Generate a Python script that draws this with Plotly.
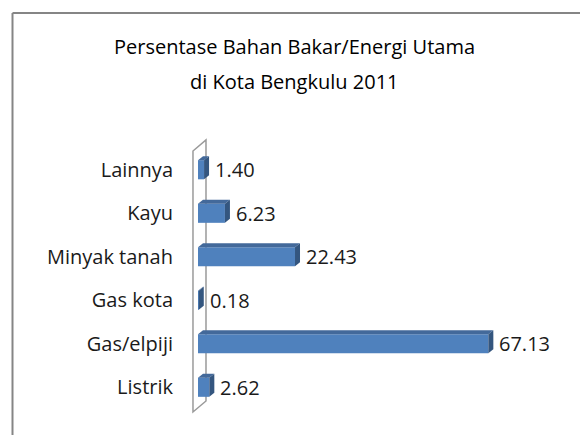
import plotly.graph_objects as go

categories = ["Listrik", "Gas/elpiji", "Gas kota", "Minyak tanah", "Kayu", "Lainnya"]
values = [2.62, 67.13, 0.18, 22.43, 6.23, 1.40]
title_line1 = "Persentase Bahan Bakar/Energi Utama"
title_line2 = "di Kota Bengkulu 2011"

W, H = 580, 435
ML, MR, MT, MB = 198, 36, 148, 26
XMAX = 80
PW = W - ML - MR
PH = H - MT - MB
FONT = "Open Sans"
FS = 20

def px_to_paper(px, py):
    return (px - ML) / PW, (H - MB - py) / PH

FRONT = "#4F81BD"
TOP = "#43699A"
SIDE = "#34567F"
HALF = 9.5      # half bar thickness in px
DEPTH_PX = 5    # 3d depth offset in px
RISE = 4        # 3d rise in px
dd = DEPTH_PX * XMAX / PW

fig = go.Figure()
fig.add_trace(go.Bar(
    x=values, y=categories, orientation="h",
    marker=dict(color=FRONT, line=dict(width=0)),
    width=0.44, hoverinfo="x+y",
))

shapes = []
wall_pts = [(193, 151), (206, 140), (206, 401), (193, 412)]
pp = [px_to_paper(*p) for p in wall_pts]
path = "M " + " L ".join(f"{a:.4f},{b:.4f}" for a, b in pp) + " Z"
shapes.append(dict(type="path", xref="paper", yref="paper", path=path,
                   line=dict(color="#9a9a9a", width=1.5), layer="below"))

for i, v in enumerate(values):
    top = (f"M 0,{HALF} L {v},{HALF} L {v+dd},{HALF+RISE} L {dd},{HALF+RISE} Z")
    side = (f"M {v},{HALF} L {v},{-HALF} L {v+dd},{-HALF+RISE} L {v+dd},{HALF+RISE} Z")
    for p, c in ((top, TOP), (side, SIDE)):
        shapes.append(dict(type="path", xref="x", yref="y", ysizemode="pixel",
                           yanchor=i, path=p, fillcolor=c,
                           line=dict(width=0), layer="above"))

fx0, fy0 = px_to_paper(12.5, 13)
fx1, fy1 = px_to_paper(590, 445)
shapes.append(dict(type="line", xref="paper", yref="paper", x0=fx0, x1=fx0, y0=fy0, y1=fy1,
                   line=dict(color="#858585", width=2)))
shapes.append(dict(type="line", xref="paper", yref="paper", x0=fx0, x1=fx1, y0=fy0, y1=fy0,
                   line=dict(color="#858585", width=2)))

annotations = []
for i, v in enumerate(values):
    annotations.append(dict(x=v + dd, y=i, xref="x", yref="y", text=f"{v:.2f}",
                            showarrow=False, xanchor="left", yanchor="middle",
                            xshift=4, font=dict(family=FONT, size=FS, color="#1a1a1a")))

tx, ty1 = px_to_paper(294, 46)
_, ty2 = px_to_paper(294, 81)
annotations.append(dict(x=tx, y=ty1, xref="paper", yref="paper", text=title_line1,
                        showarrow=False, xanchor="center", yanchor="middle",
                        font=dict(family=FONT, size=FS, color="#000000")))
annotations.append(dict(x=tx, y=ty2, xref="paper", yref="paper", text=title_line2,
                        showarrow=False, xanchor="center", yanchor="middle",
                        font=dict(family=FONT, size=FS, color="#000000")))

fig.update_layout(
    width=W, height=H,
    margin=dict(l=ML, r=MR, t=MT, b=MB, pad=0),
    paper_bgcolor="white", plot_bgcolor="white",
    showlegend=False,
    shapes=shapes, annotations=annotations,
    xaxis=dict(range=[0, XMAX], visible=False, fixedrange=True),
    yaxis=dict(type="category", categoryorder="array", categoryarray=categories,
               range=[-0.5, len(categories) - 0.5], showgrid=False, zeroline=False,
               showline=False, ticks="", ticklabelstandoff=24,
               tickfont=dict(family=FONT, size=FS, color="#1a1a1a"), fixedrange=True),
)

fig.write_html("out.html", config={"displayModeBar": False},
               post_script="document.body.style.margin='0px';document.body.style.overflow='hidden';")
